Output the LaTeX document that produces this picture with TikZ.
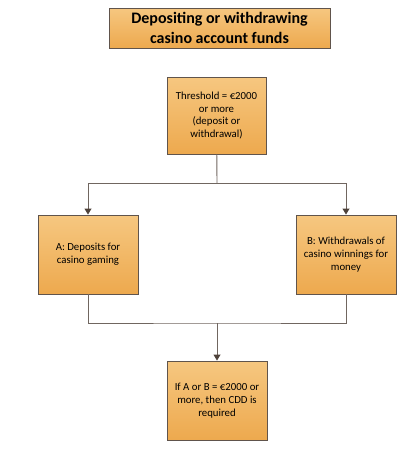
\documentclass[tikz,border=0pt]{standalone}
\usepackage{fontspec}
\setmainfont{Carlito}
\usepackage{tikz}
\usetikzlibrary{arrows.meta,shadows}
\definecolor{cdtop}{RGB}{246,199,128}
\definecolor{cdbot}{RGB}{237,169,78}
\definecolor{cdedge}{RGB}{96,84,76}
\definecolor{cdline}{RGB}{112,102,96}
\definecolor{cdtip}{RGB}{78,66,58}

\begin{document}
\begin{tikzpicture}[x=1pt,y=-1pt,font=\fontsize{10.8}{12.8}\selectfont,
    stepbox/.style={draw=cdedge,line width=0.9pt,top color=cdtop,bottom color=cdbot,
      minimum width=100pt,minimum height=79pt,inner sep=0pt,align=center,
      drop shadow={shadow xshift=1.2pt,shadow yshift=-1.2pt,fill=black!35,opacity=0.6}},
    link/.style={draw=cdline,line width=0.9pt},
    tip/.style={-{Triangle[length=6pt,width=7pt,color=cdtip]}}]
        \useasboundingbox (0,0) rectangle (418,466);
        \node[stepbox,minimum width=221pt,minimum height=40pt,font=\fontsize{16}{19.5}\selectfont\bfseries] (title) at (219.5,28) {Depositing or withdrawing\\casino account funds};
        \node[stepbox,minimum width=99pt,minimum height=77pt] (limit) at (216.5,115.5) {Threshold = €2000\\or more\\(deposit or\\withdrawal)};
        \node[stepbox] (dep) at (88,254.5) {A: Deposits for\\casino gaming};
        \node[stepbox] (wdr) at (346,254.5) {B: Withdrawals of\\casino winnings for\\money};
        \node[stepbox] (cdd) at (217,400.5) {If A or B = €2000 or\\more, then CDD is\\required};
        \coordinate (split) at (217,183);
        \coordinate (join) at (217,323);
        \draw[link] (limit) -- (split);
        \draw[link,tip] (split) -| (dep);
        \draw[link,tip] (split) -| (wdr);
        \draw[link] (dep) |- (join) -| (wdr);
        \draw[link,tip] (join) -- (cdd);
      \end{tikzpicture}
\end{document}
